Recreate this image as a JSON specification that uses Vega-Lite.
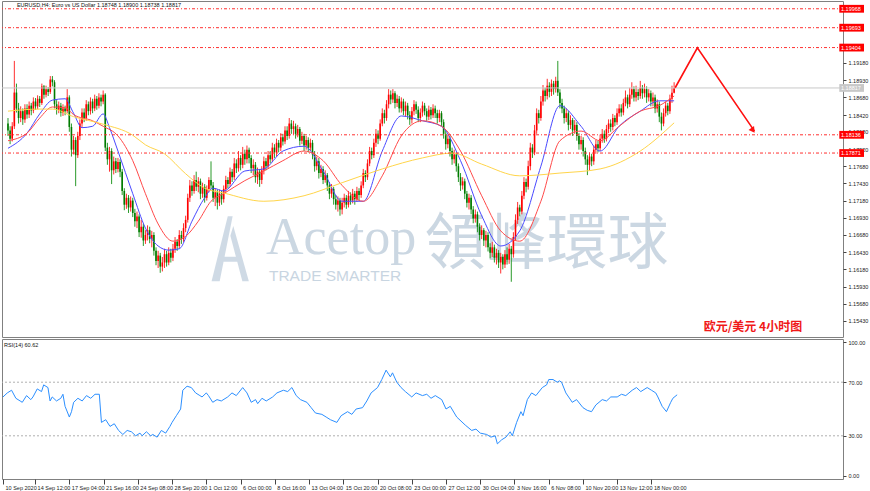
{
"$schema":"https://vega.github.io/schema/vega-lite/v6.json",
"padding":0,
"background":"white",
"spacing":0,
"config":{"view":{"stroke":"#808080"},"axis":{"grid":false,"domain":false,"labelFont":"Liberation Sans","labelFontSize":5.5,"labelColor":"#222","tickColor":"#444","tickSize":3,"title":null,"labelOverlap":false,"labelFlush":false}},
"datasets":{
"c":[
{"i":0,"o":1.1830,"c":1.1820,"h":1.1838,"l":1.1812},
{"i":1,"o":1.1820,"c":1.1808,"h":1.1826,"l":1.1800},
{"i":2,"o":1.1808,"c":1.1826,"h":1.1832,"l":1.1804},
{"i":3,"o":1.1826,"c":1.1875,"h":1.1921,"l":1.1822},
{"i":4,"o":1.1875,"c":1.1852,"h":1.1888,"l":1.1846},
{"i":5,"o":1.1852,"c":1.1838,"h":1.1860,"l":1.1830},
{"i":6,"o":1.1838,"c":1.1848,"h":1.1855,"l":1.1832},
{"i":7,"o":1.1848,"c":1.1836,"h":1.1852,"l":1.1828},
{"i":8,"o":1.1836,"c":1.1852,"h":1.1858,"l":1.1831},
{"i":9,"o":1.1852,"c":1.1843,"h":1.1858,"l":1.1837},
{"i":10,"o":1.1843,"c":1.1856,"h":1.1862,"l":1.1838},
{"i":11,"o":1.1856,"c":1.1849,"h":1.1860,"l":1.1842},
{"i":12,"o":1.1849,"c":1.1862,"h":1.1868,"l":1.1845},
{"i":13,"o":1.1862,"c":1.1855,"h":1.1867,"l":1.1850},
{"i":14,"o":1.1855,"c":1.1866,"h":1.1871,"l":1.1851},
{"i":15,"o":1.1866,"c":1.1860,"h":1.1870,"l":1.1854},
{"i":16,"o":1.1860,"c":1.1884,"h":1.1888,"l":1.1857},
{"i":17,"o":1.1884,"c":1.1872,"h":1.1886,"l":1.1866},
{"i":18,"o":1.1872,"c":1.1880,"h":1.1885,"l":1.1868},
{"i":19,"o":1.1880,"c":1.1876,"h":1.1883,"l":1.1870},
{"i":20,"o":1.1876,"c":1.1894,"h":1.1899,"l":1.1873},
{"i":21,"o":1.1894,"c":1.1890,"h":1.1899,"l":1.1884},
{"i":22,"o":1.1890,"c":1.1858,"h":1.1893,"l":1.1852},
{"i":23,"o":1.1858,"c":1.1850,"h":1.1864,"l":1.1843},
{"i":24,"o":1.1850,"c":1.1856,"h":1.1862,"l":1.1845},
{"i":25,"o":1.1856,"c":1.1846,"h":1.1860,"l":1.1840},
{"i":26,"o":1.1846,"c":1.1852,"h":1.1858,"l":1.1841},
{"i":27,"o":1.1852,"c":1.1848,"h":1.1856,"l":1.1842},
{"i":28,"o":1.1848,"c":1.1868,"h":1.1880,"l":1.1845},
{"i":29,"o":1.1868,"c":1.1825,"h":1.1871,"l":1.1818},
{"i":30,"o":1.1825,"c":1.1792,"h":1.1830,"l":1.1782},
{"i":31,"o":1.1792,"c":1.1806,"h":1.1812,"l":1.1785},
{"i":32,"o":1.1806,"c":1.1784,"h":1.1810,"l":1.1739},
{"i":33,"o":1.1784,"c":1.1812,"h":1.1818,"l":1.1780},
{"i":34,"o":1.1812,"c":1.1830,"h":1.1836,"l":1.1806},
{"i":35,"o":1.1830,"c":1.1846,"h":1.1852,"l":1.1825},
{"i":36,"o":1.1846,"c":1.1838,"h":1.1852,"l":1.1832},
{"i":37,"o":1.1838,"c":1.1858,"h":1.1864,"l":1.1834},
{"i":38,"o":1.1858,"c":1.1848,"h":1.1862,"l":1.1842},
{"i":39,"o":1.1848,"c":1.1862,"h":1.1868,"l":1.1843},
{"i":40,"o":1.1862,"c":1.1852,"h":1.1866,"l":1.1845},
{"i":41,"o":1.1852,"c":1.1866,"h":1.1872,"l":1.1848},
{"i":42,"o":1.1866,"c":1.1856,"h":1.1870,"l":1.1850},
{"i":43,"o":1.1856,"c":1.1868,"h":1.1874,"l":1.1852},
{"i":44,"o":1.1868,"c":1.1862,"h":1.1872,"l":1.1855},
{"i":45,"o":1.1862,"c":1.1872,"h":1.1878,"l":1.1858},
{"i":46,"o":1.1872,"c":1.1795,"h":1.1874,"l":1.1790},
{"i":47,"o":1.1795,"c":1.1778,"h":1.1802,"l":1.1770},
{"i":48,"o":1.1778,"c":1.1790,"h":1.1796,"l":1.1760},
{"i":49,"o":1.1790,"c":1.1762,"h":1.1794,"l":1.1742},
{"i":50,"o":1.1762,"c":1.1775,"h":1.1782,"l":1.1756},
{"i":51,"o":1.1775,"c":1.1764,"h":1.1780,"l":1.1758},
{"i":52,"o":1.1764,"c":1.1774,"h":1.1780,"l":1.1759},
{"i":53,"o":1.1774,"c":1.1760,"h":1.1778,"l":1.1752},
{"i":54,"o":1.1760,"c":1.1732,"h":1.1764,"l":1.1726},
{"i":55,"o":1.1732,"c":1.1712,"h":1.1736,"l":1.1704},
{"i":56,"o":1.1712,"c":1.1722,"h":1.1728,"l":1.1706},
{"i":57,"o":1.1722,"c":1.1708,"h":1.1726,"l":1.1700},
{"i":58,"o":1.1708,"c":1.1718,"h":1.1724,"l":1.1702},
{"i":59,"o":1.1718,"c":1.1700,"h":1.1722,"l":1.1694},
{"i":60,"o":1.1700,"c":1.1688,"h":1.1706,"l":1.1680},
{"i":61,"o":1.1688,"c":1.1695,"h":1.1702,"l":1.1678},
{"i":62,"o":1.1695,"c":1.1672,"h":1.1698,"l":1.1665},
{"i":63,"o":1.1672,"c":1.1680,"h":1.1690,"l":1.1664},
{"i":64,"o":1.1680,"c":1.1660,"h":1.1684,"l":1.1652},
{"i":65,"o":1.1660,"c":1.1668,"h":1.1675,"l":1.1655},
{"i":66,"o":1.1668,"c":1.1675,"h":1.1682,"l":1.1660},
{"i":67,"o":1.1675,"c":1.1662,"h":1.1680,"l":1.1656},
{"i":68,"o":1.1662,"c":1.1668,"h":1.1674,"l":1.1650},
{"i":69,"o":1.1668,"c":1.1645,"h":1.1672,"l":1.1638},
{"i":70,"o":1.1645,"c":1.1630,"h":1.1650,"l":1.1624},
{"i":71,"o":1.1630,"c":1.1638,"h":1.1645,"l":1.1620},
{"i":72,"o":1.1638,"c":1.1622,"h":1.1642,"l":1.1613},
{"i":73,"o":1.1622,"c":1.1628,"h":1.1636,"l":1.1615},
{"i":74,"o":1.1628,"c":1.1640,"h":1.1648,"l":1.1620},
{"i":75,"o":1.1640,"c":1.1628,"h":1.1645,"l":1.1622},
{"i":76,"o":1.1628,"c":1.1642,"h":1.1650,"l":1.1624},
{"i":77,"o":1.1642,"c":1.1635,"h":1.1648,"l":1.1628},
{"i":78,"o":1.1635,"c":1.1648,"h":1.1655,"l":1.1630},
{"i":79,"o":1.1648,"c":1.1658,"h":1.1665,"l":1.1642},
{"i":80,"o":1.1658,"c":1.1652,"h":1.1662,"l":1.1645},
{"i":81,"o":1.1652,"c":1.1668,"h":1.1675,"l":1.1648},
{"i":82,"o":1.1668,"c":1.1662,"h":1.1674,"l":1.1655},
{"i":83,"o":1.1662,"c":1.1678,"h":1.1685,"l":1.1658},
{"i":84,"o":1.1678,"c":1.1690,"h":1.1696,"l":1.1672},
{"i":85,"o":1.1690,"c":1.1722,"h":1.1728,"l":1.1686},
{"i":86,"o":1.1722,"c":1.1740,"h":1.1748,"l":1.1716},
{"i":87,"o":1.1740,"c":1.1732,"h":1.1746,"l":1.1725},
{"i":88,"o":1.1732,"c":1.1748,"h":1.1755,"l":1.1728},
{"i":89,"o":1.1748,"c":1.1738,"h":1.1760,"l":1.1732},
{"i":90,"o":1.1738,"c":1.1746,"h":1.1752,"l":1.1730},
{"i":91,"o":1.1746,"c":1.1728,"h":1.1750,"l":1.1720},
{"i":92,"o":1.1728,"c":1.1738,"h":1.1744,"l":1.1722},
{"i":93,"o":1.1738,"c":1.1722,"h":1.1742,"l":1.1715},
{"i":94,"o":1.1722,"c":1.1735,"h":1.1740,"l":1.1718},
{"i":95,"o":1.1735,"c":1.1748,"h":1.1752,"l":1.1730},
{"i":96,"o":1.1748,"c":1.1740,"h":1.1775,"l":1.1735},
{"i":97,"o":1.1740,"c":1.1722,"h":1.1745,"l":1.1716},
{"i":98,"o":1.1722,"c":1.1730,"h":1.1736,"l":1.1710},
{"i":99,"o":1.1730,"c":1.1715,"h":1.1734,"l":1.1705},
{"i":100,"o":1.1715,"c":1.1728,"h":1.1734,"l":1.1710},
{"i":101,"o":1.1728,"c":1.1720,"h":1.1732,"l":1.1712},
{"i":102,"o":1.1720,"c":1.1735,"h":1.1740,"l":1.1715},
{"i":103,"o":1.1735,"c":1.1748,"h":1.1754,"l":1.1730},
{"i":104,"o":1.1748,"c":1.1742,"h":1.1752,"l":1.1736},
{"i":105,"o":1.1742,"c":1.1760,"h":1.1766,"l":1.1738},
{"i":106,"o":1.1760,"c":1.1752,"h":1.1764,"l":1.1745},
{"i":107,"o":1.1752,"c":1.1772,"h":1.1780,"l":1.1748},
{"i":108,"o":1.1772,"c":1.1765,"h":1.1778,"l":1.1758},
{"i":109,"o":1.1765,"c":1.1780,"h":1.1790,"l":1.1760},
{"i":110,"o":1.1780,"c":1.1770,"h":1.1784,"l":1.1762},
{"i":111,"o":1.1770,"c":1.1786,"h":1.1796,"l":1.1765},
{"i":112,"o":1.1786,"c":1.1778,"h":1.1792,"l":1.1770},
{"i":113,"o":1.1778,"c":1.1792,"h":1.1798,"l":1.1772},
{"i":114,"o":1.1792,"c":1.1780,"h":1.1795,"l":1.1772},
{"i":115,"o":1.1780,"c":1.1765,"h":1.1784,"l":1.1758},
{"i":116,"o":1.1765,"c":1.1770,"h":1.1778,"l":1.1755},
{"i":117,"o":1.1770,"c":1.1752,"h":1.1774,"l":1.1744},
{"i":118,"o":1.1752,"c":1.1760,"h":1.1766,"l":1.1742},
{"i":119,"o":1.1760,"c":1.1748,"h":1.1764,"l":1.1738},
{"i":120,"o":1.1748,"c":1.1762,"h":1.1768,"l":1.1742},
{"i":121,"o":1.1762,"c":1.1775,"h":1.1782,"l":1.1756},
{"i":122,"o":1.1775,"c":1.1768,"h":1.1780,"l":1.1762},
{"i":123,"o":1.1768,"c":1.1784,"h":1.1790,"l":1.1764},
{"i":124,"o":1.1784,"c":1.1778,"h":1.1790,"l":1.1772},
{"i":125,"o":1.1778,"c":1.1795,"h":1.1802,"l":1.1774},
{"i":126,"o":1.1795,"c":1.1788,"h":1.1800,"l":1.1780},
{"i":127,"o":1.1788,"c":1.1802,"h":1.1808,"l":1.1782},
{"i":128,"o":1.1802,"c":1.1795,"h":1.1806,"l":1.1788},
{"i":129,"o":1.1795,"c":1.1810,"h":1.1816,"l":1.1790},
{"i":130,"o":1.1810,"c":1.1804,"h":1.1815,"l":1.1798},
{"i":131,"o":1.1804,"c":1.1820,"h":1.1826,"l":1.1800},
{"i":132,"o":1.1820,"c":1.1812,"h":1.1826,"l":1.1806},
{"i":133,"o":1.1812,"c":1.1830,"h":1.1838,"l":1.1808},
{"i":134,"o":1.1830,"c":1.1822,"h":1.1835,"l":1.1815},
{"i":135,"o":1.1822,"c":1.1826,"h":1.1834,"l":1.1814},
{"i":136,"o":1.1826,"c":1.1815,"h":1.1830,"l":1.1808},
{"i":137,"o":1.1815,"c":1.1822,"h":1.1828,"l":1.1810},
{"i":138,"o":1.1822,"c":1.1805,"h":1.1825,"l":1.1798},
{"i":139,"o":1.1805,"c":1.1812,"h":1.1818,"l":1.1800},
{"i":140,"o":1.1812,"c":1.1798,"h":1.1815,"l":1.1790},
{"i":141,"o":1.1798,"c":1.1806,"h":1.1812,"l":1.1792},
{"i":142,"o":1.1806,"c":1.1795,"h":1.1810,"l":1.1788},
{"i":143,"o":1.1795,"c":1.1802,"h":1.1808,"l":1.1790},
{"i":144,"o":1.1802,"c":1.1785,"h":1.1806,"l":1.1778},
{"i":145,"o":1.1785,"c":1.1768,"h":1.1790,"l":1.1760},
{"i":146,"o":1.1768,"c":1.1775,"h":1.1782,"l":1.1762},
{"i":147,"o":1.1775,"c":1.1758,"h":1.1780,"l":1.1750},
{"i":148,"o":1.1758,"c":1.1764,"h":1.1770,"l":1.1752},
{"i":149,"o":1.1764,"c":1.1748,"h":1.1768,"l":1.1742},
{"i":150,"o":1.1748,"c":1.1755,"h":1.1762,"l":1.1744},
{"i":151,"o":1.1755,"c":1.1740,"h":1.1758,"l":1.1732},
{"i":152,"o":1.1740,"c":1.1728,"h":1.1745,"l":1.1720},
{"i":153,"o":1.1728,"c":1.1735,"h":1.1742,"l":1.1722},
{"i":154,"o":1.1735,"c":1.1720,"h":1.1738,"l":1.1712},
{"i":155,"o":1.1720,"c":1.1712,"h":1.1726,"l":1.1705},
{"i":156,"o":1.1712,"c":1.1718,"h":1.1724,"l":1.1702},
{"i":157,"o":1.1718,"c":1.1705,"h":1.1722,"l":1.1696},
{"i":158,"o":1.1705,"c":1.1715,"h":1.1722,"l":1.1698},
{"i":159,"o":1.1715,"c":1.1722,"h":1.1728,"l":1.1708},
{"i":160,"o":1.1722,"c":1.1712,"h":1.1726,"l":1.1706},
{"i":161,"o":1.1712,"c":1.1725,"h":1.1732,"l":1.1708},
{"i":162,"o":1.1725,"c":1.1718,"h":1.1730,"l":1.1712},
{"i":163,"o":1.1718,"c":1.1728,"h":1.1735,"l":1.1714},
{"i":164,"o":1.1728,"c":1.1720,"h":1.1732,"l":1.1712},
{"i":165,"o":1.1720,"c":1.1732,"h":1.1738,"l":1.1716},
{"i":166,"o":1.1732,"c":1.1726,"h":1.1736,"l":1.1718},
{"i":167,"o":1.1726,"c":1.1740,"h":1.1746,"l":1.1722},
{"i":168,"o":1.1740,"c":1.1758,"h":1.1764,"l":1.1736},
{"i":169,"o":1.1758,"c":1.1752,"h":1.1762,"l":1.1745},
{"i":170,"o":1.1752,"c":1.1772,"h":1.1778,"l":1.1748},
{"i":171,"o":1.1772,"c":1.1790,"h":1.1796,"l":1.1768},
{"i":172,"o":1.1790,"c":1.1784,"h":1.1795,"l":1.1778},
{"i":173,"o":1.1784,"c":1.1802,"h":1.1808,"l":1.1780},
{"i":174,"o":1.1802,"c":1.1815,"h":1.1822,"l":1.1796},
{"i":175,"o":1.1815,"c":1.1808,"h":1.1820,"l":1.1800},
{"i":176,"o":1.1808,"c":1.1830,"h":1.1836,"l":1.1805},
{"i":177,"o":1.1830,"c":1.1845,"h":1.1852,"l":1.1826},
{"i":178,"o":1.1845,"c":1.1838,"h":1.1850,"l":1.1830},
{"i":179,"o":1.1838,"c":1.1858,"h":1.1864,"l":1.1834},
{"i":180,"o":1.1858,"c":1.1872,"h":1.1880,"l":1.1852},
{"i":181,"o":1.1872,"c":1.1865,"h":1.1878,"l":1.1858},
{"i":182,"o":1.1865,"c":1.1874,"h":1.1880,"l":1.1860},
{"i":183,"o":1.1874,"c":1.1860,"h":1.1877,"l":1.1852},
{"i":184,"o":1.1860,"c":1.1866,"h":1.1872,"l":1.1854},
{"i":185,"o":1.1866,"c":1.1852,"h":1.1870,"l":1.1846},
{"i":186,"o":1.1852,"c":1.1862,"h":1.1868,"l":1.1846},
{"i":187,"o":1.1862,"c":1.1848,"h":1.1866,"l":1.1842},
{"i":188,"o":1.1848,"c":1.1856,"h":1.1862,"l":1.1840},
{"i":189,"o":1.1856,"c":1.1842,"h":1.1860,"l":1.1836},
{"i":190,"o":1.1842,"c":1.1836,"h":1.1848,"l":1.1828},
{"i":191,"o":1.1836,"c":1.1848,"h":1.1854,"l":1.1830},
{"i":192,"o":1.1848,"c":1.1858,"h":1.1864,"l":1.1842},
{"i":193,"o":1.1858,"c":1.1850,"h":1.1862,"l":1.1844},
{"i":194,"o":1.1850,"c":1.1838,"h":1.1855,"l":1.1832},
{"i":195,"o":1.1838,"c":1.1846,"h":1.1852,"l":1.1832},
{"i":196,"o":1.1846,"c":1.1856,"h":1.1862,"l":1.1840},
{"i":197,"o":1.1856,"c":1.1848,"h":1.1860,"l":1.1842},
{"i":198,"o":1.1848,"c":1.1840,"h":1.1852,"l":1.1834},
{"i":199,"o":1.1840,"c":1.1850,"h":1.1856,"l":1.1835},
{"i":200,"o":1.1850,"c":1.1842,"h":1.1854,"l":1.1836},
{"i":201,"o":1.1842,"c":1.1852,"h":1.1858,"l":1.1838},
{"i":202,"o":1.1852,"c":1.1845,"h":1.1856,"l":1.1838},
{"i":203,"o":1.1845,"c":1.1838,"h":1.1850,"l":1.1830},
{"i":204,"o":1.1838,"c":1.1845,"h":1.1850,"l":1.1832},
{"i":205,"o":1.1845,"c":1.1832,"h":1.1848,"l":1.1826},
{"i":206,"o":1.1832,"c":1.1815,"h":1.1836,"l":1.1808},
{"i":207,"o":1.1815,"c":1.1800,"h":1.1820,"l":1.1792},
{"i":208,"o":1.1800,"c":1.1808,"h":1.1814,"l":1.1794},
{"i":209,"o":1.1808,"c":1.1790,"h":1.1812,"l":1.1782},
{"i":210,"o":1.1790,"c":1.1778,"h":1.1795,"l":1.1770},
{"i":211,"o":1.1778,"c":1.1785,"h":1.1792,"l":1.1772},
{"i":212,"o":1.1785,"c":1.1768,"h":1.1788,"l":1.1760},
{"i":213,"o":1.1768,"c":1.1752,"h":1.1772,"l":1.1745},
{"i":214,"o":1.1752,"c":1.1740,"h":1.1758,"l":1.1732},
{"i":215,"o":1.1740,"c":1.1746,"h":1.1752,"l":1.1734},
{"i":216,"o":1.1746,"c":1.1728,"h":1.1750,"l":1.1720},
{"i":217,"o":1.1728,"c":1.1715,"h":1.1732,"l":1.1708},
{"i":218,"o":1.1715,"c":1.1722,"h":1.1728,"l":1.1705},
{"i":219,"o":1.1722,"c":1.1705,"h":1.1726,"l":1.1698},
{"i":220,"o":1.1705,"c":1.1692,"h":1.1710,"l":1.1685},
{"i":221,"o":1.1692,"c":1.1698,"h":1.1705,"l":1.1686},
{"i":222,"o":1.1698,"c":1.1680,"h":1.1702,"l":1.1672},
{"i":223,"o":1.1680,"c":1.1668,"h":1.1685,"l":1.1660},
{"i":224,"o":1.1668,"c":1.1675,"h":1.1682,"l":1.1662},
{"i":225,"o":1.1675,"c":1.1660,"h":1.1678,"l":1.1652},
{"i":226,"o":1.1660,"c":1.1668,"h":1.1674,"l":1.1650},
{"i":227,"o":1.1668,"c":1.1650,"h":1.1672,"l":1.1644},
{"i":228,"o":1.1650,"c":1.1642,"h":1.1656,"l":1.1634},
{"i":229,"o":1.1642,"c":1.1650,"h":1.1658,"l":1.1636},
{"i":230,"o":1.1650,"c":1.1635,"h":1.1654,"l":1.1628},
{"i":231,"o":1.1635,"c":1.1642,"h":1.1648,"l":1.1625},
{"i":232,"o":1.1642,"c":1.1628,"h":1.1646,"l":1.1620},
{"i":233,"o":1.1628,"c":1.1636,"h":1.1642,"l":1.1612},
{"i":234,"o":1.1636,"c":1.1625,"h":1.1640,"l":1.1618},
{"i":235,"o":1.1625,"c":1.1640,"h":1.1646,"l":1.1620},
{"i":236,"o":1.1640,"c":1.1632,"h":1.1650,"l":1.1625},
{"i":237,"o":1.1632,"c":1.1648,"h":1.1655,"l":1.1626},
{"i":238,"o":1.1648,"c":1.1640,"h":1.1652,"l":1.1600},
{"i":239,"o":1.1640,"c":1.1665,"h":1.1672,"l":1.1635},
{"i":240,"o":1.1665,"c":1.1690,"h":1.1698,"l":1.1660},
{"i":241,"o":1.1690,"c":1.1708,"h":1.1716,"l":1.1684},
{"i":242,"o":1.1708,"c":1.1702,"h":1.1712,"l":1.1695},
{"i":243,"o":1.1702,"c":1.1725,"h":1.1732,"l":1.1698},
{"i":244,"o":1.1725,"c":1.1745,"h":1.1752,"l":1.1720},
{"i":245,"o":1.1745,"c":1.1738,"h":1.1750,"l":1.1730},
{"i":246,"o":1.1738,"c":1.1768,"h":1.1776,"l":1.1734},
{"i":247,"o":1.1768,"c":1.1795,"h":1.1802,"l":1.1762},
{"i":248,"o":1.1795,"c":1.1788,"h":1.1800,"l":1.1780},
{"i":249,"o":1.1788,"c":1.1820,"h":1.1828,"l":1.1784},
{"i":250,"o":1.1820,"c":1.1845,"h":1.1852,"l":1.1815},
{"i":251,"o":1.1845,"c":1.1838,"h":1.1850,"l":1.1830},
{"i":252,"o":1.1838,"c":1.1862,"h":1.1870,"l":1.1834},
{"i":253,"o":1.1862,"c":1.1878,"h":1.1886,"l":1.1856},
{"i":254,"o":1.1878,"c":1.1870,"h":1.1882,"l":1.1862},
{"i":255,"o":1.1870,"c":1.1885,"h":1.1895,"l":1.1865},
{"i":256,"o":1.1885,"c":1.1876,"h":1.1890,"l":1.1868},
{"i":257,"o":1.1876,"c":1.1888,"h":1.1894,"l":1.1870},
{"i":258,"o":1.1888,"c":1.1880,"h":1.1892,"l":1.1872},
{"i":259,"o":1.1880,"c":1.1892,"h":1.1898,"l":1.1875},
{"i":260,"o":1.1892,"c":1.1875,"h":1.1921,"l":1.1870},
{"i":261,"o":1.1875,"c":1.1860,"h":1.1880,"l":1.1852},
{"i":262,"o":1.1860,"c":1.1852,"h":1.1866,"l":1.1845},
{"i":263,"o":1.1852,"c":1.1838,"h":1.1856,"l":1.1830},
{"i":264,"o":1.1838,"c":1.1845,"h":1.1852,"l":1.1832},
{"i":265,"o":1.1845,"c":1.1828,"h":1.1848,"l":1.1820},
{"i":266,"o":1.1828,"c":1.1835,"h":1.1842,"l":1.1822},
{"i":267,"o":1.1835,"c":1.1820,"h":1.1838,"l":1.1812},
{"i":268,"o":1.1820,"c":1.1828,"h":1.1835,"l":1.1815},
{"i":269,"o":1.1828,"c":1.1812,"h":1.1832,"l":1.1805},
{"i":270,"o":1.1812,"c":1.1800,"h":1.1816,"l":1.1792},
{"i":271,"o":1.1800,"c":1.1806,"h":1.1812,"l":1.1792},
{"i":272,"o":1.1806,"c":1.1790,"h":1.1810,"l":1.1782},
{"i":273,"o":1.1790,"c":1.1778,"h":1.1795,"l":1.1770},
{"i":274,"o":1.1778,"c":1.1770,"h":1.1784,"l":1.1755},
{"i":275,"o":1.1770,"c":1.1782,"h":1.1788,"l":1.1762},
{"i":276,"o":1.1782,"c":1.1775,"h":1.1786,"l":1.1768},
{"i":277,"o":1.1775,"c":1.1792,"h":1.1798,"l":1.1770},
{"i":278,"o":1.1792,"c":1.1800,"h":1.1806,"l":1.1786},
{"i":279,"o":1.1800,"c":1.1794,"h":1.1805,"l":1.1788},
{"i":280,"o":1.1794,"c":1.1808,"h":1.1814,"l":1.1790},
{"i":281,"o":1.1808,"c":1.1815,"h":1.1822,"l":1.1802},
{"i":282,"o":1.1815,"c":1.1808,"h":1.1820,"l":1.1802},
{"i":283,"o":1.1808,"c":1.1822,"h":1.1828,"l":1.1804},
{"i":284,"o":1.1822,"c":1.1830,"h":1.1836,"l":1.1816},
{"i":285,"o":1.1830,"c":1.1825,"h":1.1836,"l":1.1818},
{"i":286,"o":1.1825,"c":1.1838,"h":1.1844,"l":1.1820},
{"i":287,"o":1.1838,"c":1.1832,"h":1.1842,"l":1.1826},
{"i":288,"o":1.1832,"c":1.1845,"h":1.1852,"l":1.1828},
{"i":289,"o":1.1845,"c":1.1852,"h":1.1858,"l":1.1840},
{"i":290,"o":1.1852,"c":1.1846,"h":1.1858,"l":1.1840},
{"i":291,"o":1.1846,"c":1.1860,"h":1.1866,"l":1.1842},
{"i":292,"o":1.1860,"c":1.1868,"h":1.1878,"l":1.1855},
{"i":293,"o":1.1868,"c":1.1858,"h":1.1872,"l":1.1852},
{"i":294,"o":1.1858,"c":1.1872,"h":1.1882,"l":1.1854},
{"i":295,"o":1.1872,"c":1.1880,"h":1.1890,"l":1.1866},
{"i":296,"o":1.1880,"c":1.1868,"h":1.1884,"l":1.1862},
{"i":297,"o":1.1868,"c":1.1876,"h":1.1885,"l":1.1862},
{"i":298,"o":1.1876,"c":1.1870,"h":1.1880,"l":1.1864},
{"i":299,"o":1.1870,"c":1.1882,"h":1.1892,"l":1.1866},
{"i":300,"o":1.1882,"c":1.1874,"h":1.1886,"l":1.1866},
{"i":301,"o":1.1874,"c":1.1880,"h":1.1888,"l":1.1868},
{"i":302,"o":1.1880,"c":1.1868,"h":1.1884,"l":1.1860},
{"i":303,"o":1.1868,"c":1.1874,"h":1.1880,"l":1.1862},
{"i":304,"o":1.1874,"c":1.1862,"h":1.1878,"l":1.1855},
{"i":305,"o":1.1862,"c":1.1868,"h":1.1875,"l":1.1855},
{"i":306,"o":1.1868,"c":1.1852,"h":1.1872,"l":1.1845},
{"i":307,"o":1.1852,"c":1.1858,"h":1.1865,"l":1.1846},
{"i":308,"o":1.1858,"c":1.1840,"h":1.1862,"l":1.1832},
{"i":309,"o":1.1840,"c":1.1830,"h":1.1846,"l":1.1820},
{"i":310,"o":1.1830,"c":1.1845,"h":1.1852,"l":1.1826},
{"i":311,"o":1.1845,"c":1.1856,"h":1.1862,"l":1.1840},
{"i":312,"o":1.1856,"c":1.1848,"h":1.1860,"l":1.1842},
{"i":313,"o":1.1848,"c":1.1866,"h":1.1872,"l":1.1844},
{"i":314,"o":1.1866,"c":1.18748,"h":1.1885,"l":1.1860},
{"i":315,"o":1.18748,"c":1.18817,"h":1.18900,"l":1.18738}
],
"ma":[
{"s":"b","i":0,"p":1.1794},{"s":"b","i":9,"p":1.1816},{"s":"b","i":15,"p":1.1844},{"s":"b","i":21,"p":1.1864},{"s":"b","i":27,"p":1.1866},{"s":"b","i":31,"p":1.1845},{"s":"b","i":35,"p":1.1824},{"s":"b","i":40,"p":1.1826},{"s":"b","i":45,"p":1.1844},{"s":"b","i":48,"p":1.1824},{"s":"b","i":52,"p":1.1790},{"s":"b","i":59,"p":1.1728},{"s":"b","i":65,"p":1.1678},{"s":"b","i":71,"p":1.1652},{"s":"b","i":76,"p":1.1646},{"s":"b","i":81,"p":1.1648},{"s":"b","i":87,"p":1.1688},{"s":"b","i":93,"p":1.1722},{"s":"b","i":97,"p":1.1736},{"s":"b","i":102,"p":1.1732},{"s":"b","i":112,"p":1.1761},{"s":"b","i":121,"p":1.1764},{"s":"b","i":130,"p":1.1790},{"s":"b","i":140,"p":1.1797},{"s":"b","i":149,"p":1.1761},{"s":"b","i":158,"p":1.1717},{"s":"b","i":168,"p":1.1717},{"s":"b","i":177,"p":1.1790},{"s":"b","i":186,"p":1.1841},{"s":"b","i":196,"p":1.1834},{"s":"b","i":205,"p":1.1826},{"s":"b","i":214,"p":1.1776},{"s":"b","i":224,"p":1.1696},{"s":"b","i":233,"p":1.1652},{"s":"b","i":242,"p":1.1674},{"s":"b","i":252,"p":1.1768},{"s":"b","i":261,"p":1.1856},{"s":"b","i":271,"p":1.1826},{"s":"b","i":280,"p":1.1790},{"s":"b","i":289,"p":1.1826},{"s":"b","i":299,"p":1.1848},{"s":"b","i":308,"p":1.1863},{"s":"b","i":315,"p":1.1863},
{"s":"r","i":0,"p":1.1805},{"s":"r","i":9,"p":1.1816},{"s":"r","i":15,"p":1.1838},{"s":"r","i":21,"p":1.1854},{"s":"r","i":27,"p":1.1853},{"s":"r","i":31,"p":1.1843},{"s":"r","i":40,"p":1.1834},{"s":"r","i":45,"p":1.1826},{"s":"r","i":52,"p":1.1812},{"s":"r","i":59,"p":1.1776},{"s":"r","i":65,"p":1.1728},{"s":"r","i":71,"p":1.1684},{"s":"r","i":78,"p":1.1659},{"s":"r","i":84,"p":1.1666},{"s":"r","i":90,"p":1.1688},{"s":"r","i":96,"p":1.1717},{"s":"r","i":102,"p":1.1728},{"s":"r","i":112,"p":1.1747},{"s":"r","i":121,"p":1.1761},{"s":"r","i":130,"p":1.1776},{"s":"r","i":140,"p":1.1790},{"s":"r","i":149,"p":1.1776},{"s":"r","i":158,"p":1.1740},{"s":"r","i":168,"p":1.1717},{"s":"r","i":177,"p":1.1754},{"s":"r","i":186,"p":1.1812},{"s":"r","i":196,"p":1.1834},{"s":"r","i":205,"p":1.1826},{"s":"r","i":214,"p":1.1790},{"s":"r","i":224,"p":1.1725},{"s":"r","i":233,"p":1.1674},{"s":"r","i":242,"p":1.1659},{"s":"r","i":252,"p":1.1717},{"s":"r","i":261,"p":1.1805},{"s":"r","i":271,"p":1.1819},{"s":"r","i":280,"p":1.1805},{"s":"r","i":289,"p":1.1826},{"s":"r","i":299,"p":1.1848},{"s":"r","i":308,"p":1.1856},{"s":"r","i":315,"p":1.1870},
{"s":"y","i":0,"p":1.1848},{"s":"y","i":15,"p":1.1851},{"s":"y","i":21,"p":1.1851},{"s":"y","i":31,"p":1.1840},{"s":"y","i":45,"p":1.1829},{"s":"y","i":59,"p":1.1813},{"s":"y","i":65,"p":1.1799},{"s":"y","i":74,"p":1.1786},{"s":"y","i":84,"p":1.1757},{"s":"y","i":93,"p":1.1736},{"s":"y","i":102,"p":1.1729},{"s":"y","i":121,"p":1.1717},{"s":"y","i":140,"p":1.1725},{"s":"y","i":158,"p":1.1744},{"s":"y","i":177,"p":1.1764},{"s":"y","i":196,"p":1.1780},{"s":"y","i":210,"p":1.1787},{"s":"y","i":224,"p":1.1771},{"s":"y","i":242,"p":1.1754},{"s":"y","i":261,"p":1.1758},{"s":"y","i":280,"p":1.1764},{"s":"y","i":299,"p":1.1790},{"s":"y","i":315,"p":1.1831}
],
"rsi":[
{"i":0,"v":59},{"i":2,"v":62},{"i":4,"v":64},{"i":6,"v":58},{"i":8,"v":56},{"i":9,"v":55},{"i":11,"v":60},{"i":13,"v":57},{"i":14,"v":59},{"i":16,"v":65},{"i":18,"v":63},{"i":19,"v":68},{"i":21,"v":66},{"i":22,"v":56},{"i":23,"v":59},{"i":25,"v":56},{"i":27,"v":58},{"i":28,"v":61},{"i":29,"v":52},{"i":31,"v":44},{"i":32,"v":48},{"i":33,"v":55},{"i":35,"v":58},{"i":37,"v":56},{"i":39,"v":60},{"i":41,"v":58},{"i":43,"v":61},{"i":45,"v":61},{"i":46,"v":40},{"i":48,"v":42},{"i":50,"v":37},{"i":52,"v":39},{"i":54,"v":34},{"i":56,"v":31},{"i":58,"v":34},{"i":60,"v":33},{"i":62,"v":30},{"i":64,"v":32},{"i":65,"v":30},{"i":67,"v":33},{"i":69,"v":30},{"i":70,"v":31},{"i":72,"v":29},{"i":74,"v":34},{"i":76,"v":32},{"i":78,"v":37},{"i":79,"v":40},{"i":81,"v":45},{"i":83,"v":50},{"i":84,"v":64},{"i":86,"v":67},{"i":88,"v":66},{"i":90,"v":62},{"i":92,"v":60},{"i":93,"v":59},{"i":95,"v":62},{"i":96,"v":60},{"i":98,"v":55},{"i":100,"v":57},{"i":102,"v":56},{"i":105,"v":59},{"i":107,"v":62},{"i":109,"v":60},{"i":112,"v":66},{"i":114,"v":62},{"i":116,"v":55},{"i":118,"v":57},{"i":119,"v":54},{"i":121,"v":58},{"i":123,"v":56},{"i":126,"v":59},{"i":128,"v":62},{"i":131,"v":64},{"i":133,"v":63},{"i":135,"v":66},{"i":137,"v":60},{"i":139,"v":57},{"i":142,"v":55},{"i":144,"v":51},{"i":146,"v":47},{"i":149,"v":46},{"i":151,"v":44},{"i":153,"v":42},{"i":156,"v":40},{"i":158,"v":45},{"i":161,"v":48},{"i":163,"v":46},{"i":165,"v":50},{"i":168,"v":51},{"i":170,"v":56},{"i":172,"v":62},{"i":175,"v":66},{"i":177,"v":72},{"i":179,"v":79},{"i":181,"v":74},{"i":182,"v":77},{"i":184,"v":70},{"i":186,"v":66},{"i":188,"v":63},{"i":191,"v":59},{"i":193,"v":62},{"i":196,"v":60},{"i":198,"v":61},{"i":200,"v":58},{"i":202,"v":60},{"i":205,"v":57},{"i":207,"v":50},{"i":209,"v":52},{"i":212,"v":44},{"i":214,"v":41},{"i":216,"v":38},{"i":219,"v":34},{"i":221,"v":35},{"i":223,"v":32},{"i":226,"v":31},{"i":228,"v":29},{"i":230,"v":30},{"i":231,"v":24},{"i":233,"v":27},{"i":235,"v":29},{"i":237,"v":33},{"i":238,"v":30},{"i":240,"v":40},{"i":242,"v":48},{"i":243,"v":45},{"i":245,"v":57},{"i":247,"v":62},{"i":249,"v":60},{"i":252,"v":66},{"i":254,"v":68},{"i":255,"v":72},{"i":257,"v":72},{"i":259,"v":70},{"i":260,"v":71},{"i":261,"v":70},{"i":263,"v":62},{"i":266,"v":55},{"i":268,"v":57},{"i":271,"v":51},{"i":273,"v":49},{"i":275,"v":48},{"i":277,"v":53},{"i":280,"v":57},{"i":282,"v":56},{"i":284,"v":59},{"i":287,"v":59},{"i":289,"v":61},{"i":291,"v":60},{"i":294,"v":64},{"i":296,"v":66},{"i":298,"v":63},{"i":301,"v":66},{"i":303,"v":64},{"i":305,"v":62},{"i":306,"v":59},{"i":308,"v":52},{"i":310,"v":48},{"i":312,"v":55},{"i":313,"v":58},{"i":315,"v":60.62}
],
"lv":[{"p":1.19968,"t":"1.19968"},{"p":1.19693,"t":"1.19693"},{"p":1.19404,"t":"1.19404"},{"p":1.18136,"t":"1.18136"},{"p":1.17871,"t":"1.17871"}],
"arrow":[{"k":0,"i":315.5,"p":1.1882},{"k":1,"i":326,"p":1.1940},{"k":2,"i":353,"p":1.1819}]
},
"vconcat":[
{
"width":841,"height":336,
"layer":[
{"data":{"values":[{"i":104.7,"p":1.1648}]},"mark":{"type":"point","shape":"M-0.55,1L-0.05,-1L0.1,-1L-0.3,1Z M0.12,-0.7L0.6,1L0.4,1L0.03,-0.4Z M-0.35,0.25L0.3,0.25L0.34,0.4L-0.39,0.4Z","size":4200,"filled":true,"color":"#c3d1de","opacity":0.8},
 "encoding":{"x":{"field":"i","type":"quantitative","scale":{"domain":[-0.47,392.5],"nice":false,"zero":false},"axis":null},"y":{"field":"p","type":"quantitative","scale":{"domain":[1.15197,1.20081],"nice":false,"zero":false},"title":null,"axis":{"orient":"right","values":[1.1918,1.1893,1.1868,1.1842,1.1818,1.1792,1.1768,1.1743,1.1718,1.1693,1.1668,1.1643,1.1618,1.1593,1.1568,1.1543],"tickCount":100,"format":".5f","tickSize":3,"labelOverlap":false}}}},
{"data":{"values":[{"i":122,"p":1.1640,"t":"Acetop"}]},"mark":{"type":"text","align":"left","baseline":"alphabetic","font":"Liberation Serif","fontSize":52,"color":"#c3d1de","opacity":0.85},"encoding":{"x":{"field":"i","type":"quantitative"},"y":{"field":"p","type":"quantitative","title":null},"text":{"field":"t"}}},
{"data":{"values":[{"i":197,"p":1.1652,"t":"領峰環球"}]},"mark":{"type":"text","align":"left","baseline":"middle","font":"Noto Sans CJK TC","fontSize":61,"color":"#c3d1de","opacity":0.85},"encoding":{"x":{"field":"i","type":"quantitative"},"y":{"field":"p","type":"quantitative","title":null},"text":{"field":"t"}}},
{"data":{"values":[{"i":123.4,"p":1.1608,"t":"TRADE SMARTER"}]},"mark":{"type":"text","align":"left","baseline":"middle","font":"Liberation Sans","fontSize":15.5,"color":"#c3d1de","opacity":0.9},"encoding":{"x":{"field":"i","type":"quantitative"},"y":{"field":"p","type":"quantitative","title":null},"text":{"field":"t"}}},
{"data":{"name":"c"},"mark":{"type":"rule","strokeWidth":1},"encoding":{"x":{"field":"i","type":"quantitative"},"y":{"field":"l","type":"quantitative","title":null},"y2":{"field":"h"},"color":{"condition":{"test":"datum.c >= datum.o","value":"#ff3030"},"value":"#2a9a2a"}}},
{"data":{"name":"c"},"mark":{"type":"bar","width":1.6},"encoding":{"x":{"field":"i","type":"quantitative"},"y":{"field":"o","type":"quantitative","title":null},"y2":{"field":"c"},"color":{"condition":{"test":"datum.c >= datum.o","value":"#ff0000"},"value":"#007a00"}}},
{"data":{"name":"ma"},"mark":{"type":"line","strokeWidth":1,"interpolate":"monotone"},"encoding":{"x":{"field":"i","type":"quantitative"},"y":{"field":"p","type":"quantitative","title":null},"color":{"field":"s","type":"nominal","scale":{"domain":["y","r","b"],"range":["#ffd54a","#ff4a4a","#4a4aff"]},"legend":null}}},
{"data":{"values":[{"p":1.18817}]},"mark":{"type":"rule","color":"#c8c8c8","strokeWidth":1},"encoding":{"y":{"field":"p","type":"quantitative","title":null}}},
{"data":{"name":"lv"},"mark":{"type":"rule","color":"#ff3030","strokeWidth":1,"strokeDash":[3,2,1,2]},"encoding":{"y":{"field":"p","type":"quantitative","title":null}}},
{"data":{"name":"arrow"},"mark":{"type":"line","color":"#ff1010","strokeWidth":1.6},"encoding":{"x":{"field":"i","type":"quantitative"},"y":{"field":"p","type":"quantitative","title":null},"order":{"field":"k"}}},
{"data":{"values":[{"i":352.3,"p":1.1820}]},"mark":{"type":"point","shape":"triangle-up","angle":145,"size":45,"filled":true,"color":"#ff1010","opacity":1},"encoding":{"x":{"field":"i","type":"quantitative"},"y":{"field":"p","type":"quantitative","title":null}}},
{"data":{"values":[{"i":329,"p":1.1534,"t":"欧元/美元  4小时图"}]},"mark":{"type":"text","align":"left","baseline":"middle","font":"Noto Sans CJK SC","fontWeight":"bold","fontSize":12,"color":"#f01818"},"encoding":{"x":{"field":"i","type":"quantitative"},"y":{"field":"p","type":"quantitative","title":null},"text":{"field":"t"}}},
{"data":{"values":[{"i":4.2,"p":1.2002,"t":"EURUSD,H4:  Euro vs US Dollar  1.18748 1.18900 1.18738 1.18817"}]},"mark":{"type":"text","align":"left","baseline":"middle","font":"Liberation Sans","fontSize":5.5,"color":"#111"},"encoding":{"x":{"field":"i","type":"quantitative"},"y":{"field":"p","type":"quantitative","title":null},"text":{"field":"t"}}},
{"data":{"values":[{"i":392.5,"p":1.18817}]},"mark":{"type":"point","shape":"M0.1,-0.3H2V0.3H0.1Z","size":676,"filled":true,"color":"#c8c8c8","opacity":1},"encoding":{"x":{"field":"i","type":"quantitative"},"y":{"field":"p","type":"quantitative","title":null}}},
{"data":{"values":[{"i":392.5,"p":1.18817,"t":"1.18817"}]},"mark":{"type":"text","align":"left","baseline":"middle","dx":3,"font":"Liberation Sans","fontSize":5.5,"color":"white"},"encoding":{"x":{"field":"i","type":"quantitative"},"y":{"field":"p","type":"quantitative","title":null},"text":{"field":"t"}}},
{"data":{"name":"lv"},"mark":{"type":"point","shape":"M0.1,-0.3H2V0.3H0.1Z","size":676,"filled":true,"color":"#ff0000","opacity":1},"encoding":{"x":{"datum":392.5,"type":"quantitative"},"y":{"field":"p","type":"quantitative","title":null}}},
{"data":{"name":"lv"},"mark":{"type":"text","align":"left","baseline":"middle","dx":3,"font":"Liberation Sans","fontSize":5.5,"color":"white"},"encoding":{"x":{"datum":392.5,"type":"quantitative"},"y":{"field":"p","type":"quantitative","title":null},"text":{"field":"t"}}}
]
},
{
"width":841,"height":140,
"layer":[
{"data":{"values":[{"v":70},{"v":30}]},"mark":{"type":"rule","color":"#b0b0b0","strokeWidth":1,"strokeDash":[2,2]},"encoding":{"y":{"field":"v","type":"quantitative","scale":{"domain":[-2.24,102.24],"nice":false,"zero":false},"title":null,"axis":{"orient":"right","values":[0,30,70,100],"tickCount":100,"format":".2f","tickSize":3,"labelOverlap":false}}}},
{"data":{"name":"rsi"},"mark":{"type":"line","color":"#2b8fff","strokeWidth":1},"encoding":{"x":{"field":"i","type":"quantitative","scale":{"domain":[-0.47,392.5],"nice":false,"zero":false},"title":null,"axis":{"values":[0,15,31,47,63,79,95,111,127,143,159,175,191,207,223,239,255,271,287,303],"tickCount":100,"labelExpr":"['10 Sep 2020','14 Sep 12:00','17 Sep 04:00','21 Sep 16:00','24 Sep 08:00','28 Sep 20:00','1 Oct 12:00','6 Oct 00:00','8 Oct 16:00','13 Oct 04:00','15 Oct 20:00','20 Oct 08:00','23 Oct 00:00','27 Oct 12:00','30 Oct 04:00','3 Nov 16:00','6 Nov 08:00','10 Nov 20:00','13 Nov 12:00','18 Nov 00:00'][round((datum.value+1)/16)]","labelAlign":"left","labelOffset":2,"labelPadding":1,"tickSize":5,"labelOverlap":false}},"y":{"field":"v","type":"quantitative","title":null}}},
{"data":{"values":[{"i":0.5,"v":98,"t":"RSI(14) 60.62"}]},"mark":{"type":"text","align":"left","baseline":"middle","font":"Liberation Sans","fontSize":5.5,"color":"#111"},"encoding":{"x":{"field":"i","type":"quantitative"},"y":{"field":"v","type":"quantitative","title":null},"text":{"field":"t"}}}
]
}
]
}
